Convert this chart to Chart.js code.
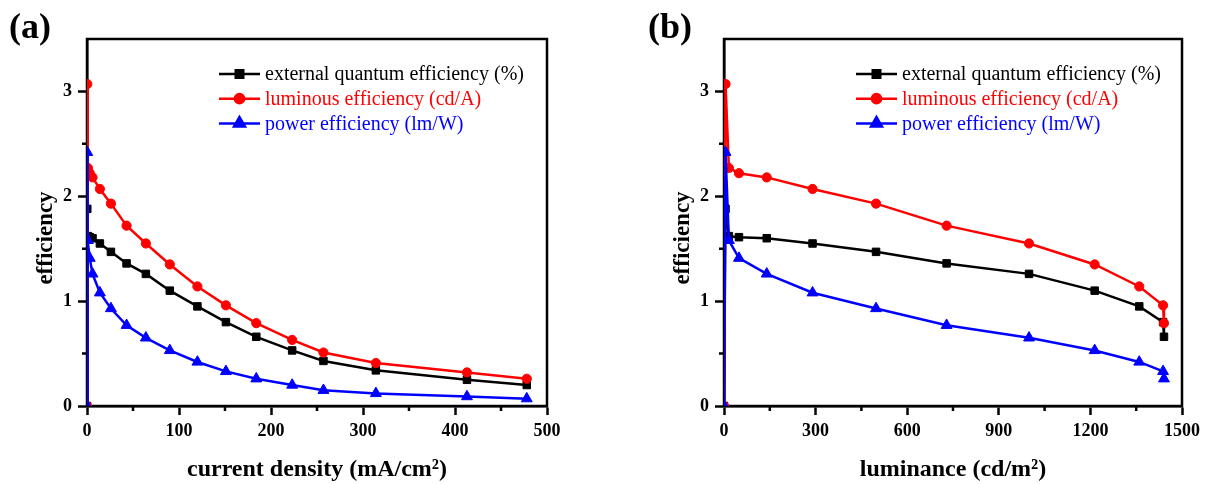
<!DOCTYPE html>
<html>
<head>
<meta charset="utf-8">
<script src="https://cdn.jsdelivr.net/npm/chart.js@4.4.0/dist/chart.umd.min.js"></script>
<style>
  body { margin: 0; background: #fff; }
  #wrap { position: relative; width: 1206px; height: 484px; }
  #wrap canvas { position: absolute; top: 0; }
</style>
</head>
<body>
<div id="wrap">
  <canvas id="chartA" width="603" height="484" style="left:0"></canvas>
  <canvas id="chartB" width="603" height="484" style="left:603px"></canvas>
</div>
<script>
// values
const currentDensity = [0, 0.3, 1, 3, 6, 14, 26, 43, 64, 90, 120, 151, 184, 223, 257, 314, 413, 478];
const luminance = [0, 5, 16, 49, 140, 290, 498, 729, 999, 1214, 1360, 1438, 1441];
const eqe = [0, 1.88, 1.62, 1.61, 1.60, 1.55, 1.47, 1.36, 1.26, 1.10, 0.95, 0.80, 0.66, 0.53, 0.43, 0.34, 0.25, 0.20];
const lumEff = [0, 3.07, 2.27, 2.22, 2.18, 2.07, 1.93, 1.72, 1.55, 1.35, 1.14, 0.96, 0.79, 0.63, 0.51, 0.41, 0.32, 0.26];
const powEff = [0, 2.42, 1.58, 1.41, 1.26, 1.08, 0.93, 0.77, 0.65, 0.53, 0.42, 0.33, 0.26, 0.20, 0.15, 0.12, 0.09, 0.07];
const seriesLabels = ['external quantum efficiency (%)', 'luminous efficiency (cd/A)', 'power efficiency (lm/W)'];

const FONT = "'Liberation Serif', 'Times New Roman', serif";

const styles = [
  { color: '#000000', pointStyle: 'rect', pointRadius: 5.3, order: 2 },
  { color: '#ff0000', pointStyle: 'circle', pointRadius: 4.6, order: 1 },
  { color: '#0000ff', pointStyle: 'triangle', pointRadius: 6.3, order: 0 }
];

function makeDatasets(xs) {
  const ys = [eqe, lumEff, powEff];
  return ys.map((y, i) => ({
    label: seriesLabels[i],
    data: xs.map((x, j) => ({ x: x, y: y[j] })),
    borderColor: styles[i].color,
    backgroundColor: styles[i].color,
    pointBackgroundColor: styles[i].color,
    pointBorderColor: styles[i].color,
    pointBorderWidth: 1,
    pointStyle: styles[i].pointStyle,
    pointRadius: styles[i].pointRadius,
    borderWidth: 2.5,
    tension: 0,
    fill: false,
    order: styles[i].order
  }));
}

// box frame + short minor ticks
const framePlugin = {
  id: 'frame',
  beforeDatasetsDraw(chart) {
    const { ctx, chartArea: a, scales } = chart;
    ctx.save();
    ctx.strokeStyle = '#000';
    ctx.lineWidth = 2.5;
    ctx.strokeRect(a.left, a.top, a.right - a.left, a.bottom - a.top);
    ctx.beginPath();
    scales.x.ticks.forEach((t, i) => {
      if (t.label === '' && t.value < scales.x.max) {
        const px = scales.x.getPixelForTick(i);
        ctx.moveTo(px, a.bottom);
        ctx.lineTo(px, a.bottom + 5);
      }
    });
    scales.y.ticks.forEach((t, i) => {
      if (t.label === '' && t.value < scales.y.max) {
        const py = scales.y.getPixelForTick(i);
        ctx.moveTo(a.left - 5, py);
        ctx.lineTo(a.left, py);
      }
    });
    ctx.stroke();
    ctx.restore();
  }
};

// legend inside the plot, line + marker, coloured text
const legendPlugin = {
  id: 'inLegend',
  afterDatasetsDraw(chart) {
    const { ctx, chartArea: a } = chart;
    ctx.save();
    chart.data.datasets.forEach((ds, i) => {
      const y = a.top + 35 + 24.7 * i;
      const x0 = a.left + 132;
      ctx.strokeStyle = ds.borderColor;
      ctx.lineWidth = 2.5;
      ctx.beginPath();
      ctx.moveTo(x0, y);
      ctx.lineTo(x0 + 41, y);
      ctx.stroke();
      ctx.fillStyle = ds.backgroundColor;
      Chart.helpers.drawPoint(ctx, {
        pointStyle: ds.pointStyle, radius: ds.pointRadius, borderWidth: 1, rotation: 0
      }, x0 + 20.5, y);
      ctx.fillStyle = ds.borderColor;
      ctx.font = '20px ' + FONT;
      ctx.textBaseline = 'middle';
      ctx.textAlign = 'left';
      ctx.fillText(ds.label, x0 + 46, y + 1);
    });
    ctx.restore();
  }
};

// panel letter and the vertical axis title (sits a bit below the plot centre in the original)
const labelsPlugin = {
  id: 'panelLabel',
  afterDraw(chart, args, opts) {
    const ctx = chart.ctx;
    ctx.save();
    ctx.fillStyle = '#000';
    ctx.textBaseline = 'middle';
    ctx.textAlign = 'left';
    ctx.font = 'bold 36px ' + FONT;
    ctx.fillText(opts.text, opts.x, 29);
    ctx.translate(opts.yTitleX, 238);
    ctx.rotate(-Math.PI / 2);
    ctx.textAlign = 'center';
    ctx.font = 'bold 23px ' + FONT;
    ctx.fillText(opts.yTitle, 0, 0);
    ctx.restore();
  }
};

function makePanel(id, xs, xMax, xStep, xTitle, padLeft, padRight, label, labelX) {
  const tickFont = { family: FONT, size: 18, weight: 'bold' };
  const titleFont = { family: FONT, size: 24, weight: 'bold' };
  const tickColor = c => (c.tick && c.tick.label === '') ? 'rgba(0,0,0,0)' : '#000';
  return new Chart(document.getElementById(id), {
    type: 'line',
    data: { datasets: makeDatasets(xs) },
    options: {
      responsive: false,
      animation: false,
      devicePixelRatio: 1,
      layout: { padding: { left: padLeft, right: padRight, top: 39, bottom: 0 } },
      plugins: {
        legend: { display: false },
        tooltip: { enabled: false },
        panelLabel: { text: label, x: labelX, yTitle: 'efficiency', yTitleX: padLeft + 17 }
      },
      scales: {
        x: {
          type: 'linear', min: 0, max: xMax,
          ticks: {
            stepSize: xStep / 2, autoSkip: false, maxRotation: 0,
            callback: v => (v % xStep === 0 ? v : ''),
            font: tickFont, color: '#000', padding: 6
          },
          grid: { drawOnChartArea: false, tickLength: 9, tickWidth: 2.5, tickColor: tickColor },
          border: { display: true, color: '#000', width: 2.5 },
          title: { display: true, text: xTitle, font: titleFont, color: '#000', padding: { top: 0, bottom: 0 } },
          afterFit: s => { s.height = 78; }
        },
        y: {
          min: 0, max: 3.5,
          ticks: {
            stepSize: 0.5,
            callback: v => (Number.isInteger(v) ? v : ''),
            font: tickFont, color: '#000', padding: 6
          },
          grid: { drawOnChartArea: false, tickLength: 9, tickWidth: 2.5, tickColor: tickColor },
          border: { display: true, color: '#000', width: 2.5 },
          afterFit: s => { s.width = 58; }
        }
      }
    },
    plugins: [framePlugin, legendPlugin, labelsPlugin]
  });
}

makePanel('chartA', currentDensity, 500, 100, 'current density (mA/cm\u00B2)', 29, 56, '(a)', 9);
makePanel('chartB', luminance, 1500, 300, 'luminance (cd/m\u00B2)', 63, 21, '(b)', 45);
</script>
</body>
</html>
